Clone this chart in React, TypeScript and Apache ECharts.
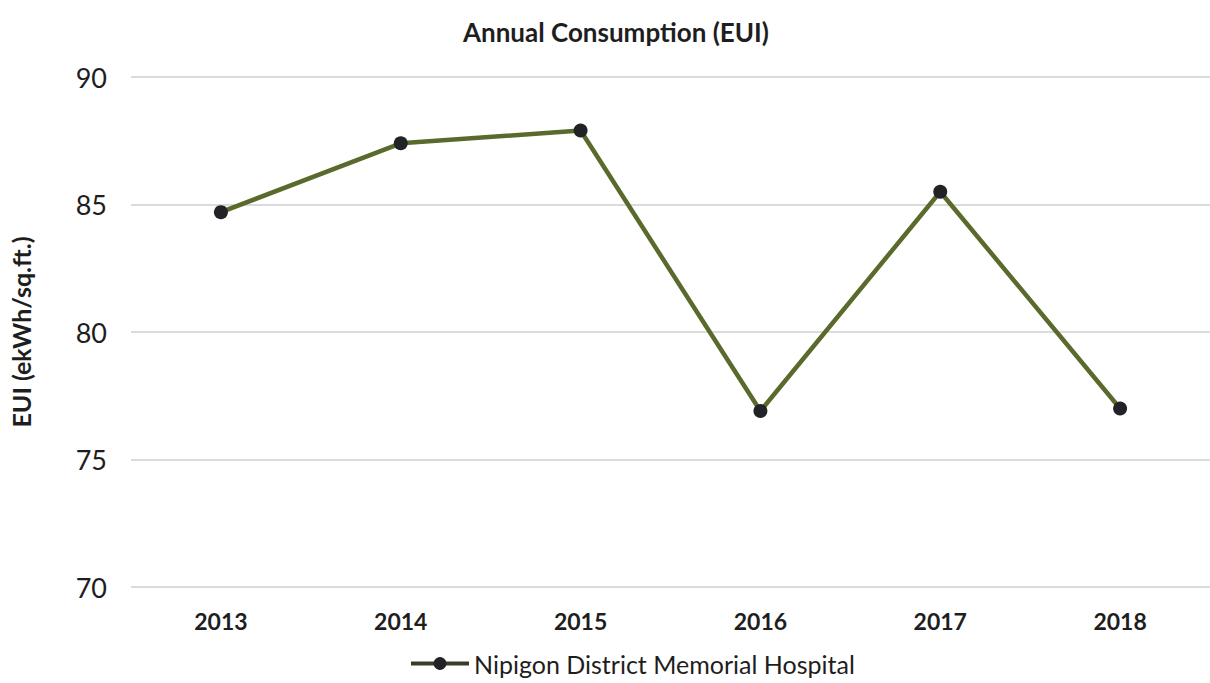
import React, { useEffect, useRef } from "react";
import * as echarts from "echarts";

const years = ["2013", "2014", "2015", "2016", "2017", "2018"];
const euiValues = [84.7, 87.4, 87.9, 76.9, 85.5, 77.0];
const seriesName = "Nipigon District Memorial Hospital";
const yMin = 70;
const yMax = 90;
const yStep = 5;

const FONT = "Lato, 'Open Sans', sans-serif";

export default function App() {
  const ref = useRef<HTMLDivElement>(null);
  useEffect(() => {
    if (!ref.current) return;
    const chart = echarts.init(ref.current, undefined, { renderer: "svg" });
    chart.setOption({
      animation: false,
      backgroundColor: "#ffffff",
      title: {
        text: "Annual Consumption (EUI)",
        left: 458,
        top: 14,
        textStyle: { fontFamily: FONT, fontSize: 26, fontWeight: "bold", color: "#1e1e1e" },
      },
      legend: {
        bottom: 2,
        left: 404,
        data: [seriesName],
        itemWidth: 58,
        itemHeight: 16,
        itemGap: 4,
        lineStyle: { color: "#3a3d2c", width: 4 },
        textStyle: { fontFamily: FONT, fontSize: 25, color: "#1e1e1e" },
      },
      grid: { left: 128, top: 77, width: 1088, height: 510 },
      xAxis: {
        type: "category",
        data: years,
        boundaryGap: true,
        axisLine: { show: false },
        axisTick: { show: false },
        axisLabel: { margin: 22, fontFamily: FONT, fontSize: 23, fontWeight: "bold", color: "#1e1e1e" },
      },
      yAxis: {
        type: "value",
        min: yMin,
        max: yMax,
        interval: yStep,
        name: "EUI (ekWh/sq.ft.)",
        nameLocation: "middle",
        nameGap: 98,
        nameRotate: 90,
        nameTextStyle: { fontFamily: FONT, fontSize: 25, fontWeight: "bold", color: "#1e1e1e" },
        axisLine: { show: false },
        axisTick: { show: false },
        axisLabel: { margin: 24, fontFamily: FONT, fontSize: 27, color: "#1e1e1e" },
        splitLine: { lineStyle: { color: "#cfcfcf", width: 1.5 } },
      },
      series: [
        {
          name: seriesName,
          type: "line",
          data: euiValues,
          symbol: "circle",
          symbolSize: 14,
          lineStyle: { color: "#596a2c", width: 4.5 },
          itemStyle: { color: "#222326", borderWidth: 0 },
        },
      ],
    });
    return () => chart.dispose();
  }, []);
  return <div ref={ref} style={{ position: "fixed", left: 0, top: 0, width: 1210, height: 683 }} />;
}
